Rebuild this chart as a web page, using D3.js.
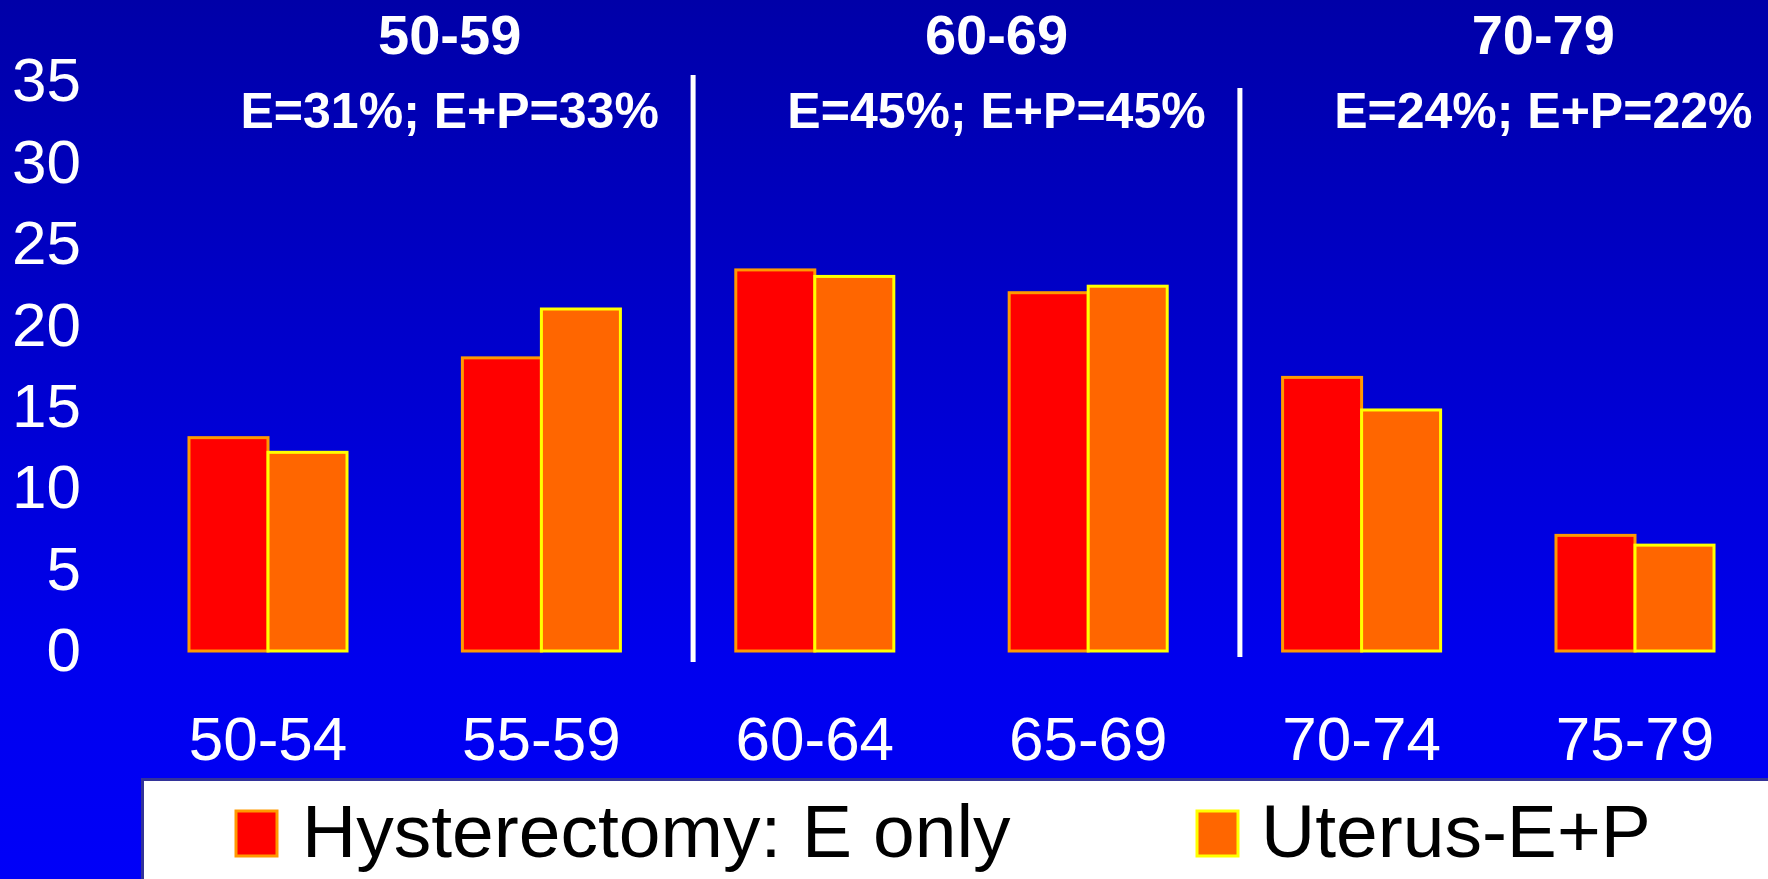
<!DOCTYPE html>
<html>
<head>
<meta charset="utf-8">
<script src="https://cdn.jsdelivr.net/npm/d3@7/dist/d3.min.js"></script>
<style>
  html, body { margin: 0; padding: 0; overflow: hidden; background: #0000c0; }
  svg { display: block; }
  text { font-family: Arial, "Liberation Sans", sans-serif; }
</style>
</head>
<body>
<svg id="chart" width="1768" height="879"></svg>
<script>
// Age bands along the x axis
const categories = ["50-54", "55-59", "60-64", "65-69", "70-74", "75-79"];
// Series values per age band
const eOnly  = [13.1, 18.0, 23.4, 22.0, 16.8, 7.1];
const ePlusP = [12.2, 21.0, 23.0, 22.4, 14.8, 6.5];
const seriesNames = ["Hysterectomy: E only", "Uterus-E+P"];
// Y axis tick values
const yTicks = [0, 5, 10, 15, 20, 25, 30, 35];
// Decade headings and their summary notes
const decadeLabels = ["50-59", "60-69", "70-79"];
const decadeNotes = ["E=31%; E+P=33%", "E=45%; E+P=45%", "E=24%; E+P=22%"];

const W = 1768, H = 879;
const svg = d3.select("#chart");

// Background: vertical blue gradient
const defs = svg.append("defs");
const grad = defs.append("linearGradient")
  .attr("id", "bg").attr("x1", 0).attr("y1", 0).attr("x2", 0).attr("y2", 1);
grad.append("stop").attr("offset", "0%").attr("stop-color", "#0000a8");
grad.append("stop").attr("offset", "75%").attr("stop-color", "#0000ee");
grad.append("stop").attr("offset", "100%").attr("stop-color", "#0000f8");
svg.append("rect").attr("width", W).attr("height", H).attr("fill", "url(#bg)");

// Scales
const x = d3.scaleBand()
  .domain(categories)
  .range([131.3, 131.3 + 6 * 273.4])
  .paddingInner(0.422)
  .paddingOuter(0.211);
const x1 = d3.scaleBand().domain(seriesNames).range([0, x.bandwidth()]);
const y = d3.scaleLinear().domain([0, 35]).range([651, 81]);

const colors = { fill: ["#ff0000", "#ff6600"], stroke: ["#ff9900", "#ffff00"] };

// Y axis: labels only
const yAxis = svg.append("g")
  .attr("transform", "translate(81,0)")
  .call(d3.axisLeft(y).tickValues(yTicks).tickSize(0).tickPadding(0));
yAxis.select(".domain").remove();
yAxis.selectAll("text")
  .attr("fill", "#ffffff")
  .style("font-size", "62px")
  .style("font-family", "Arial, 'Liberation Sans', sans-serif");

// X axis: labels only
const xAxis = svg.append("g")
  .attr("transform", `translate(0,${y(0)})`)
  .call(d3.axisBottom(x).tickSize(0).tickPadding(65));
xAxis.select(".domain").remove();
xAxis.selectAll("text")
  .attr("fill", "#ffffff")
  .style("font-size", "62px")
  .style("font-family", "Arial, 'Liberation Sans', sans-serif");

// Separators between decades
const step = x.step();
const sepDefs = [
  { cat: "60-64", top: 75, bottom: 662 },
  { cat: "70-74", top: 88, bottom: 657 }
];
svg.selectAll("line.sep").data(sepDefs).join("line")
  .attr("class", "sep")
  .attr("x1", d => x(d.cat) - x.paddingInner() * step / 2 + 15)
  .attr("x2", d => x(d.cat) - x.paddingInner() * step / 2 + 15)
  .attr("y1", d => d.top)
  .attr("y2", d => d.bottom)
  .attr("stroke", "#ffffff")
  .attr("stroke-width", 5);

// Bars
const series = [eOnly, ePlusP];
series.forEach((vals, si) => {
  svg.append("g").selectAll("rect")
    .data(categories.map((c, i) => ({ c, v: vals[i] })))
    .join("rect")
    .attr("x", d => x(d.c) + x1(seriesNames[si]))
    .attr("y", d => y(d.v))
    .attr("width", x1.bandwidth())
    .attr("height", d => y(0) - y(d.v))
    .attr("fill", colors.fill[si])
    .attr("stroke", colors.stroke[si])
    .attr("stroke-width", 3);
});

// Decade headings
const decadeCenter = i => (x(categories[2 * i]) + x(categories[2 * i + 1]) + x.bandwidth()) / 2 + 45;
svg.selectAll("text.decade").data(decadeLabels).join("text")
  .attr("class", "decade")
  .attr("x", (d, i) => decadeCenter(i))
  .attr("y", 54)
  .attr("text-anchor", "middle")
  .attr("fill", "#ffffff")
  .style("font-size", "56px")
  .style("font-weight", "bold")
  .text(d => d);
svg.selectAll("text.note").data(decadeNotes).join("text")
  .attr("class", "note")
  .attr("x", (d, i) => decadeCenter(i))
  .attr("y", 128)
  .attr("text-anchor", "middle")
  .attr("fill", "#ffffff")
  .style("font-size", "50px")
  .style("font-weight", "bold")
  .text(d => d);

// Legend
const legend = svg.append("g");
legend.append("rect")
  .attr("x", 142.5).attr("y", 779.5)
  .attr("width", 1700).attr("height", 200)
  .attr("fill", "#ffffff")
  .attr("stroke", "#333399")
  .attr("stroke-width", 3);
const legendItems = [
  { name: seriesNames[0], sx: 236, tx: 302, si: 0 },
  { name: seriesNames[1], sx: 1197, tx: 1261, si: 1 }
];
legendItems.forEach(it => {
  legend.append("rect")
    .attr("x", it.sx).attr("y", 811)
    .attr("width", 41).attr("height", 45)
    .attr("fill", colors.fill[it.si])
    .attr("stroke", colors.stroke[it.si])
    .attr("stroke-width", 3);
  legend.append("text")
    .attr("x", it.tx).attr("y", 857)
    .attr("fill", "#000000")
    .style("font-size", "75px")
    .text(it.name);
});
</script>
</body>
</html>
